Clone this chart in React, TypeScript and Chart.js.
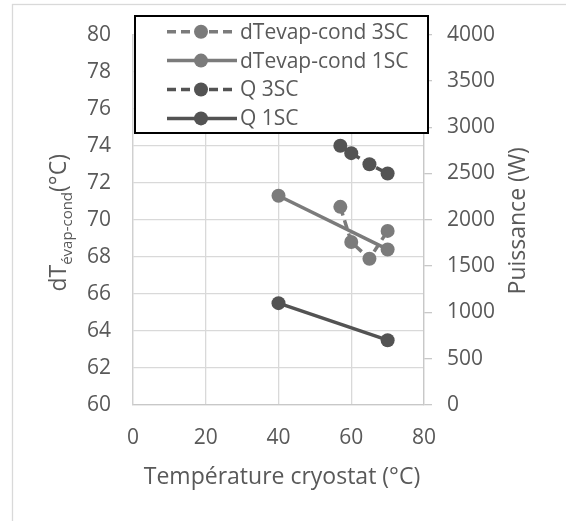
import React, { useEffect, useRef } from 'react';
import { Chart, registerables } from 'chart.js';

Chart.register(...registerables);

const FONT = "'Open Sans', sans-serif";
const TEXT = '#595959';
const LIGHT = '#7b7b7b';
const DARK = '#535353';

// ---- data ----
const temp3SC = [57, 60, 65, 70];
const dT3SC = [70.7, 68.8, 67.9, 69.4];
const Q3SC = [2800, 2720, 2600, 2500];
const temp1SC = [40, 70];
const dT1SC = [71.3, 68.4];
const Q1SC = [1100, 700];
const seriesLabels = ['dTevap-cond 3SC', 'dTevap-cond 1SC', 'Q 3SC', 'Q 1SC'];

const xTitle = 'Température cryostat (°C)';
const yTitleMain = 'dT';
const yTitleSub = 'évap-cond';
const yTitleEnd = '(°C)';
const y1Title = 'Puissance (W)';

const xRange = [0, 80, 20];
const yRange = [60, 80, 2];
const y1Range = [0, 4000, 500];

const pts = (xs: number[], ys: number[]) => xs.map((x, i) => ({ x, y: ys[i] }));

const legendItems = [
  { label: seriesLabels[0], color: LIGHT, dashed: true },
  { label: seriesLabels[1], color: LIGHT, dashed: false },
  { label: seriesLabels[2], color: DARK, dashed: true },
  { label: seriesLabels[3], color: DARK, dashed: false },
];

const decorPlugin = {
  id: 'decor',
  beforeDraw(chart: any) {
    const ctx = chart.ctx;
    ctx.save();
    ctx.fillStyle = '#ffffff';
    ctx.fillRect(0, 0, chart.width, chart.height);
    ctx.strokeStyle = '#d9d9d9';
    ctx.lineWidth = 1.3;
    ctx.strokeRect(12.5, 4.5, chart.width + 40, chart.height + 40);
    ctx.restore();
  },
  afterDraw(chart: any) {
    const ctx = chart.ctx;
    const a = chart.chartArea;
    ctx.save();
    ctx.fillStyle = TEXT;

    // x title
    ctx.font = `23px ${FONT}`;
    ctx.textAlign = 'center';
    ctx.textBaseline = 'middle';
    ctx.fillText(xTitle, (a.left + a.right) / 2 + 3.5, a.bottom + 72);

    // right title (reads bottom to top)
    ctx.save();
    ctx.translate(a.right + 94, (a.top + a.bottom) / 2 + 1);
    ctx.rotate(-Math.PI / 2);
    ctx.fillText(y1Title, 0, 0);
    ctx.restore();

    // left title with subscript
    ctx.save();
    ctx.translate(0, (a.top + a.bottom) / 2 + 3);
    ctx.rotate(-Math.PI / 2);
    ctx.textAlign = 'left';
    ctx.textBaseline = 'alphabetic';
    const mainFont = `23px ${FONT}`;
    const subFont = `15px ${FONT}`;
    ctx.font = mainFont;
    const w1 = ctx.measureText(yTitleMain).width;
    const w3 = ctx.measureText(yTitleEnd).width;
    ctx.font = subFont;
    const w2 = ctx.measureText(yTitleSub).width;
    const total = w1 + w2 + w3;
    let x = -total / 2;
    const base = 66;
    ctx.font = mainFont;
    ctx.fillText(yTitleMain, x, base);
    x += w1;
    ctx.font = subFont;
    ctx.fillText(yTitleSub, x, base + 6);
    x += w2;
    ctx.font = mainFont;
    ctx.fillText(yTitleEnd, x, base);
    ctx.restore();

    // legend box
    const L = a.left + 2;
    const T = 16;
    const R = a.right + 4;
    const B = 133;
    ctx.fillStyle = '#ffffff';
    ctx.fillRect(L, T, R - L, B - T);
    ctx.strokeStyle = '#000000';
    ctx.lineWidth = 2;
    ctx.strokeRect(L, T, R - L, B - T);
    ctx.font = `21px ${FONT}`;
    ctx.textAlign = 'left';
    ctx.textBaseline = 'middle';
    legendItems.forEach((it, i) => {
      const cy = T + 15.7 + i * 28.9;
      ctx.strokeStyle = it.color;
      ctx.lineWidth = 3.5;
      ctx.setLineDash(it.dashed ? [9, 5] : []);
      ctx.beginPath();
      ctx.moveTo(167, cy);
      ctx.lineTo(237, cy);
      ctx.stroke();
      ctx.setLineDash([]);
      ctx.fillStyle = it.color;
      ctx.beginPath();
      ctx.arc(201, cy, 7, 0, Math.PI * 2);
      ctx.fill();
      ctx.fillStyle = TEXT;
      ctx.fillText(it.label, 240, cy + 1);
    });
    ctx.restore();
  },
};

export default function App() {
  const ref = useRef<HTMLCanvasElement | null>(null);

  useEffect(() => {
    if (!ref.current) return;
    const tickFont = { family: FONT, size: 21 };
    const chart = new Chart(ref.current, {
      type: 'line',
      data: {
        datasets: [
          {
            label: seriesLabels[0],
            data: pts(temp3SC, dT3SC),
            borderColor: LIGHT,
            backgroundColor: LIGHT,
            borderDash: [9, 5],
            borderWidth: 3.5,
            pointRadius: 7,
            pointBorderWidth: 0,
            yAxisID: 'y',
          },
          {
            label: seriesLabels[1],
            data: pts(temp1SC, dT1SC),
            borderColor: LIGHT,
            backgroundColor: LIGHT,
            borderWidth: 3.5,
            pointRadius: 7,
            pointBorderWidth: 0,
            yAxisID: 'y',
          },
          {
            label: seriesLabels[2],
            data: pts(temp3SC, Q3SC),
            borderColor: DARK,
            backgroundColor: DARK,
            borderDash: [9, 5],
            borderWidth: 3.5,
            pointRadius: 7,
            pointBorderWidth: 0,
            yAxisID: 'y1',
          },
          {
            label: seriesLabels[3],
            data: pts(temp1SC, Q1SC),
            borderColor: DARK,
            backgroundColor: DARK,
            borderWidth: 3.5,
            pointRadius: 7,
            pointBorderWidth: 0,
            yAxisID: 'y1',
          },
        ],
      },
      options: {
        responsive: false,
        animation: false,
        layout: { padding: { top: 33, left: 0, right: 0, bottom: 0 } },
        plugins: { legend: { display: false }, tooltip: { enabled: false } },
        scales: {
          x: {
            type: 'linear',
            min: xRange[0],
            max: xRange[1],
            ticks: {
              stepSize: xRange[2],
              font: tickFont,
              color: TEXT,
              padding: 20,
              callback: (v: any) => String(v),
            },
            grid: { color: '#d9d9d9', lineWidth: 1.3, drawTicks: false },
            border: { color: '#c8c8c8', width: 1.3 },
            afterFit: (s: any) => {
              s.height = 116;
            },
          },
          y: {
            type: 'linear',
            position: 'left',
            min: yRange[0],
            max: yRange[1],
            ticks: {
              stepSize: yRange[2],
              font: tickFont,
              color: TEXT,
              padding: 22,
              callback: (v: any) => String(v),
            },
            grid: { color: '#d9d9d9', lineWidth: 1.3, drawTicks: false },
            border: { color: '#d0d0d0', width: 1.3 },
            afterFit: (s: any) => {
              s.width = 133;
            },
          },
          y1: {
            type: 'linear',
            position: 'right',
            min: y1Range[0],
            max: y1Range[1],
            ticks: {
              stepSize: y1Range[2],
              font: tickFont,
              color: TEXT,
              padding: 15,
              callback: (v: any) => String(v),
            },
            grid: {
              drawOnChartArea: false,
              drawTicks: true,
              tickLength: 8,
              color: '#c8c8c8',
              lineWidth: 1.3,
            },
            border: { color: '#c8c8c8', width: 1.3 },
            afterFit: (s: any) => {
              s.width = 142;
            },
          },
        },
      } as any,
      plugins: [decorPlugin],
    });
    return () => chart.destroy();
  }, []);

  return (
    <div style={{ position: 'fixed', left: 0, top: 0, width: 566, height: 521, background: '#fff' }}>
      <canvas ref={ref} width={566} height={521} style={{ display: 'block' }} />
    </div>
  );
}
